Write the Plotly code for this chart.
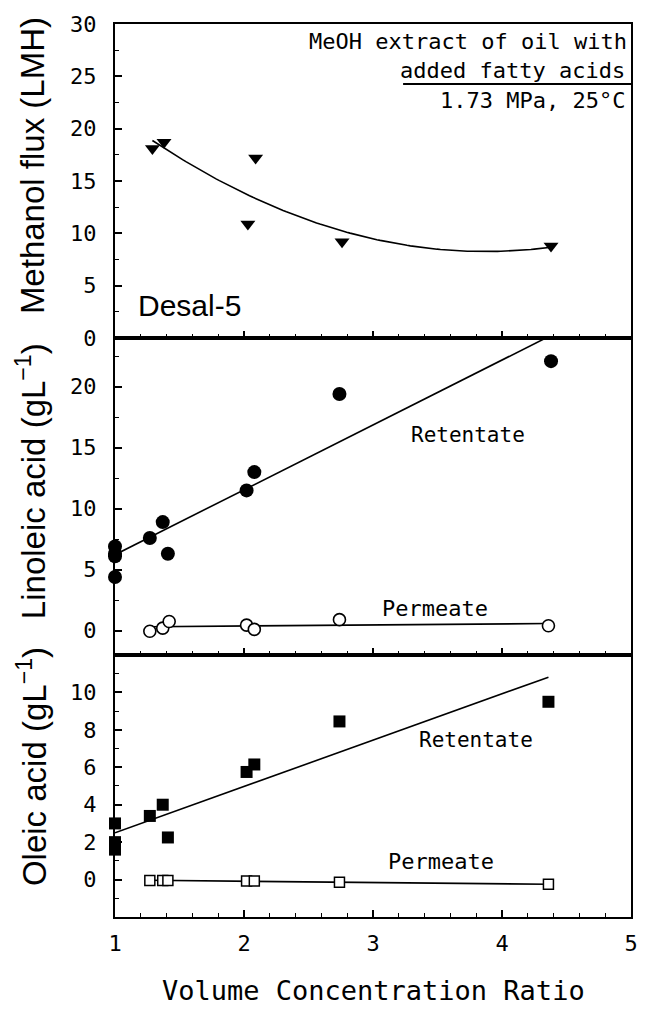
import numpy as np
import plotly.graph_objects as go

# ---------------- data ----------------
flux_x = [1.29, 1.38, 2.03, 2.09, 2.76, 4.38]
flux_y = [18.1, 18.7, 10.9, 17.2, 9.2, 8.8]

lin_ret_x = [1.0, 1.0, 1.0, 1.0, 1.27, 1.37, 1.41, 2.02, 2.08, 2.74, 4.38]
lin_ret_y = [6.9, 6.3, 6.1, 4.4, 7.6, 8.9, 6.3, 11.5, 13.0, 19.4, 22.1]

lin_per_x = [1.27, 1.37, 1.42, 2.02, 2.08, 2.74, 4.36]
lin_per_y = [-0.05, 0.2, 0.75, 0.45, 0.1, 0.9, 0.4]

ole_ret_x = [1.0, 1.0, 1.0, 1.0, 1.27, 1.37, 1.41, 2.02, 2.08, 2.74, 4.36]
ole_ret_y = [3.0, 2.0, 1.8, 1.6, 3.4, 4.0, 2.25, 5.75, 6.15, 8.45, 9.5]

ole_per_x = [1.27, 1.37, 1.41, 2.02, 2.08, 2.74, 4.36]
ole_per_y = [-0.05, -0.05, -0.05, -0.08, -0.08, -0.15, -0.25]

x_ticks = [1, 2, 3, 4, 5]
flux_ticks = [0, 5, 10, 15, 20, 25, 30]
lin_ticks = [0, 5, 10, 15, 20]
ole_ticks = [0, 2, 4, 6, 8, 10]

x_title = "Volume Concentration Ratio"
flux_title = "Methanol flux (LMH)"
lin_title = "Linoleic acid (gL<sup>−1</sup>)"
ole_title = "Oleic acid (gL<sup>−1</sup>)"

# ---------------- fits ----------------
def fit(xs, ys, deg, n=120):
    c = np.polyfit(xs, ys, deg)
    xx = np.linspace(min(xs), max(xs), n)
    return xx, np.polyval(c, xx)

fx, fy = fit(flux_x, flux_y, 2)
lrx, lry = fit(lin_ret_x, lin_ret_y, 1)
lpx, lpy = fit(lin_per_x, lin_per_y, 1)
orx, ory = fit(ole_ret_x, ole_ret_y, 1)
opx, opy = fit(ole_per_x, ole_per_y, 1)

fig = go.Figure()
line = dict(color="black", width=1.6)

def add_line(x, y, xa, ya):
    fig.add_trace(go.Scatter(x=x, y=y, mode="lines", line=line, xaxis=xa, yaxis=ya,
                             showlegend=False, hoverinfo="skip"))

def add_pts(x, y, xa, ya, symbol, size, lw=0):
    fig.add_trace(go.Scatter(x=x, y=y, mode="markers", xaxis=xa, yaxis=ya, showlegend=False,
                             cliponaxis=False,
                             marker=dict(symbol=symbol, size=size, color="black",
                                         line=dict(color="black", width=lw))))

# top: methanol flux
add_line(fx, fy, "x3", "y3")
add_pts(flux_x, flux_y, "x3", "y3", "triangle-down", 13)
# middle: linoleic
add_line(lrx, lry, "x2", "y2")
add_line(lpx, lpy, "x2", "y2")
add_pts(lin_ret_x, lin_ret_y, "x2", "y2", "circle", 14)
fig.add_trace(go.Scatter(x=lin_per_x, y=lin_per_y, mode="markers", xaxis="x2", yaxis="y2",
                         showlegend=False, cliponaxis=False,
                         marker=dict(symbol="circle", size=12, color="white",
                                     line=dict(color="black", width=1.6))))
# bottom: oleic
add_line(orx, ory, "x", "y")
add_line(opx, opy, "x", "y")
add_pts(ole_ret_x, ole_ret_y, "x", "y", "square", 12)
fig.add_trace(go.Scatter(x=ole_per_x, y=ole_per_y, mode="markers", xaxis="x", yaxis="y",
                         showlegend=False, cliponaxis=False,
                         marker=dict(symbol="square", size=10, color="white",
                                     line=dict(color="black", width=1.5))))

tick_font = dict(family="DejaVu Sans Mono", size=22, color="black")
common = dict(showline=True, linecolor="black", linewidth=2, mirror=True, showgrid=False,
              zeroline=False, ticks="inside", ticklen=7, tickwidth=1.5, tickcolor="black",
              tickfont=tick_font)

xcommon = dict(common, range=[1, 5], tickmode="array", tickvals=x_ticks,
               minor=dict(tickmode="linear", tick0=1, dtick=0.2, ticks="inside", ticklen=4,
                          tickwidth=1.2, tickcolor="black"))

b_top = 0.2934
m_top = 0.6484

fig.update_layout(
    width=645, height=1011,
    margin=dict(l=115, r=7, t=24, b=94),
    paper_bgcolor="white", plot_bgcolor="white",
    showlegend=False,
    xaxis=dict(xcommon, anchor="y", domain=[0, 1], ticklabelstandoff=6),
    xaxis2=dict(xcommon, anchor="y2", domain=[0, 1], matches="x", showticklabels=False),
    xaxis3=dict(xcommon, anchor="y3", domain=[0, 1], matches="x", showticklabels=False),
    yaxis=dict(common, domain=[0, b_top], range=[-2, 12], tickmode="array", tickvals=ole_ticks,
               ticklabelstandoff=12,
               minor=dict(tickmode="array", tickvals=[-1, 1, 3, 5, 7, 9, 11], ticks="inside",
                          ticklen=4, tickwidth=1.2, tickcolor="black")),
    yaxis2=dict(common, domain=[b_top, m_top], range=[-2, 24], tickmode="array",
                tickvals=lin_ticks, ticklabelstandoff=12,
                minor=dict(tickmode="array", tickvals=[2.5, 7.5, 12.5, 17.5, 22.5],
                           ticks="inside", ticklen=4, tickwidth=1.2, tickcolor="black")),
    yaxis3=dict(common, domain=[m_top, 1], range=[0, 30], tickmode="array",
                tickvals=flux_ticks, ticklabelstandoff=12,
                minor=dict(tickmode="array", tickvals=[2.5, 7.5, 12.5, 17.5, 22.5, 27.5],
                           ticks="inside", ticklen=4, tickwidth=1.2, tickcolor="black")),
)

mono = "DejaVu Sans Mono"
sans = "Liberation Sans, Arial, sans-serif"

def ann(text, x, y, xanchor="left", family=mono, size=22, angle=0, yanchor="middle"):
    fig.add_annotation(text=text, x=x, y=y, xref="paper", yref="paper", showarrow=False,
                       xanchor=xanchor, yanchor=yanchor, textangle=angle,
                       font=dict(family=family, size=size, color="black"))

def py(p):
    return (917 - p) / 893.0

def px(p):
    return (p - 115) / 523.0

ann("MeOH extract of oil with", px(636), py(42), "right")
ann("added fatty acids", px(634), py(70), "right")
ann("1.73 MPa, 25°C", px(634), py(100), "right")
fig.add_shape(type="line", xref="paper", yref="paper", x0=px(407), x1=px(640),
              y0=py(84), y1=py(84), line=dict(color="black", width=2))
ann("Desal-5", px(136), py(305), "left", family=sans, size=30)

ann("Retentate", px(413), py(435), "left", size=21)
ann("Permeate", px(384), py(608), "left", size=22)
ann("Retentate", px(421), py(740), "left", size=21)
ann("Permeate", px(390), py(861), "left", size=22)

ann(flux_title, px(31), py(166), "center", family=sans, size=33, angle=-90)
ann(lin_title, px(30), py(481), "center", family=sans, size=33, angle=-90)
ann(ole_title, px(31), py(767), "center", family=sans, size=33, angle=-90)

ann(x_title, px(377), py(990), "center", size=27)

fig.write_html("out.html")
